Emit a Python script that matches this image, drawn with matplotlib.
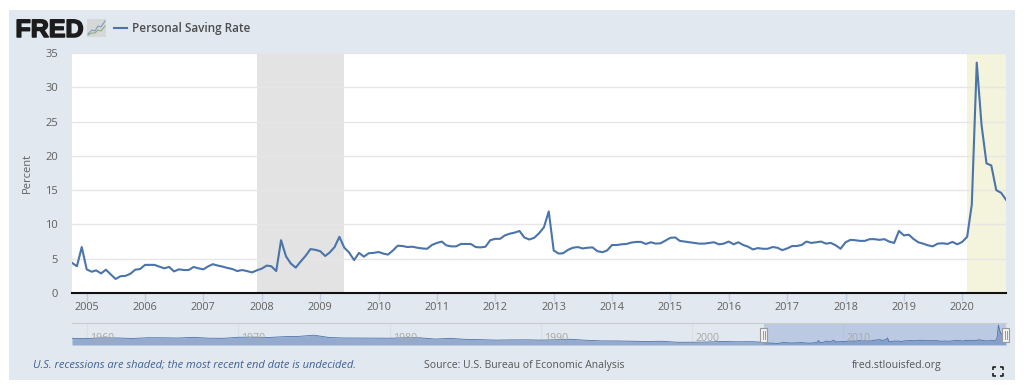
import numpy as np
import pandas as pd
import matplotlib
matplotlib.use('Agg')
import matplotlib.pyplot as plt
import matplotlib.patheffects as pe
from matplotlib.patches import Rectangle

plt.rcParams['font.family'] = ['Open Sans', 'DejaVu Sans']

# Personal saving rate, monthly, Oct 2004 - Oct 2020
saving_2004 = [4.4, 3.9, 6.7]
saving_2005 = [3.45, 3.1, 3.3, 2.85, 3.4, 2.7, 2.05, 2.45, 2.5, 2.8, 3.4, 3.5]
saving_2006 = [4.1, 4.1, 4.1, 3.85, 3.6, 3.8, 3.15, 3.45, 3.35, 3.35, 3.8, 3.6]
saving_2007 = [3.45, 3.9, 4.2, 4.0, 3.85, 3.65, 3.5, 3.2, 3.35, 3.2, 3.0, 3.3]
saving_2008 = [3.55, 4.0, 3.9, 3.2, 7.7, 5.35, 4.3, 3.7, 4.6, 5.4, 6.4, 6.3]
saving_2009 = [6.1, 5.4, 5.9, 6.7, 8.2, 6.6, 5.9, 4.8, 5.85, 5.3, 5.8, 5.85]
saving_2010 = [5.98, 5.74, 5.6, 6.2, 6.9, 6.85, 6.7, 6.75, 6.6, 6.5, 6.45, 7.0]
saving_2011 = [7.3, 7.5, 6.95, 6.8, 6.8, 7.15, 7.15, 7.15, 6.7, 6.65, 6.75, 7.7]
saving_2012 = [7.9, 7.9, 8.4, 8.65, 8.8, 9.05, 8.1, 7.8, 8.05, 8.7, 9.6, 11.9]
saving_2013 = [6.2, 5.75, 5.8, 6.3, 6.6, 6.7, 6.5, 6.6, 6.65, 6.1, 5.95, 6.2]
saving_2014 = [7.0, 7.0, 7.1, 7.15, 7.35, 7.45, 7.45, 7.15, 7.4, 7.2, 7.25, 7.65]
saving_2015 = [8.05, 8.1, 7.6, 7.5, 7.4, 7.3, 7.2, 7.2, 7.3, 7.4, 7.1, 7.2]
saving_2016 = [7.5, 7.1, 7.4, 7.0, 6.75, 6.35, 6.55, 6.45, 6.45, 6.7, 6.6, 6.25]
saving_2017 = [6.5, 6.85, 6.85, 7.0, 7.5, 7.3, 7.4, 7.5, 7.2, 7.3, 6.95, 6.45]
saving_2018 = [7.4, 7.75, 7.7, 7.6, 7.6, 7.85, 7.85, 7.75, 7.85, 7.5, 7.3, 9.05]
saving_2019 = [8.4, 8.5, 7.9, 7.4, 7.2, 6.95, 6.8, 7.2, 7.25, 7.15, 7.45, 7.1]
saving_2020 = [7.45, 8.2, 12.9, 33.6, 24.5, 18.9, 18.6, 15.0, 14.6, 13.6]

saving = (saving_2004 + saving_2005 + saving_2006 + saving_2007 + saving_2008
          + saving_2009 + saving_2010 + saving_2011 + saving_2012 + saving_2013
          + saving_2014 + saving_2015 + saving_2016 + saving_2017 + saving_2018
          + saving_2019 + saving_2020)
dates = pd.date_range('2004-10-01', '2020-10-01', freq='MS')

recessions = [('2007-12-01', '2009-06-01', '#e3e3e3'),
              ('2020-02-01', '2020-10-01', '#f4f3dc')]
y_ticks = [0, 5, 10, 15, 20, 25, 30, 35]
year_ticks = list(range(2005, 2021))

# Long history for the navigator strip, yearly 1959 - 2004
nav_years = list(range(1959, 2005))
nav_values = [11.2, 10.9, 12.0, 11.8, 11.0, 12.2, 12.1, 11.7, 12.9, 11.5,
              11.2, 13.0, 13.2, 12.6, 14.0, 14.5, 16.5, 12.6, 11.8, 11.7,
              11.5, 11.4, 12.2, 12.1, 10.0, 11.2, 9.5, 9.0, 8.2, 8.6,
              8.7, 8.2, 8.9, 9.6, 7.9, 6.9, 6.8, 6.4, 5.9, 6.3,
              4.6, 4.6, 5.0, 5.9, 5.4, 5.6]
nav_labels = [1960, 1970, 1980, 1990, 2000, 2010]

W, H = 1024, 392
LINE = '#4a74aa'
PANEL = '#e1e8f0'
TXT = '#606060'


def px_axes(fig, x0, y0, x1, y1, **kw):
    # axes placed by pixel box, y measured from the top
    return fig.add_axes([x0/W, 1-y1/H, (x1-x0)/W, (y1-y0)/H], **kw)


fig = plt.figure(figsize=(W/100, H/100), dpi=100, facecolor='white')

# overlay in pixel coordinates for panel, logo and footer
bg = px_axes(fig, 0, 0, W, H, zorder=0)
bg.set_xlim(0, W)
bg.set_ylim(H, 0)
bg.axis('off')
bg.add_patch(Rectangle((9, 10), 1006, 370, fc=PANEL, ec='none'))

bg.text(15.5, 37, 'FRED', family='Liberation Sans', weight='bold', fontsize=18,
        color='#1c1c1c', va='baseline', ha='left',
        path_effects=[pe.withStroke(linewidth=1.1, foreground='#1c1c1c')])
bg.add_patch(Rectangle((87, 19), 19, 18, fc='#d6d8d8', ec='none'))
bg.plot([88, 92, 95, 98, 101, 105], [34, 30, 31, 26, 27, 21], color='#7f9cc0', lw=0.8)
bg.plot([88, 92, 95, 98, 101, 105], [35, 33, 33, 30, 31, 26], color='#8fae7c', lw=0.8)
bg.plot([114, 127], [28, 28], color=LINE, lw=1.5)
bg.text(132, 28, 'Personal Saving Rate', fontsize=8.45, color='#4d4d4d', weight='semibold',
        va='center', ha='left')
bg.text(27, 173, 'Percent', fontsize=8, color=TXT, rotation=90, va='center', ha='center')

bg.text(33, 365.5, 'U.S. recessions are shaded; the most recent end date is undecided.',
        fontsize=8.02, style='italic', color='#3f6196', va='center', ha='left')
bg.text(424, 365.5, 'Source: U.S. Bureau of Economic Analysis', fontsize=7.5, color='#555555',
        va='center', ha='left')
bg.text(852, 365.5, 'fred.stlouisfed.org', fontsize=7.55, color='#555555', va='center', ha='left')

# fullscreen icon corners
for cx, cy, dx, dy in [(993, 367, 1, 1), (1003, 367, -1, 1), (993, 376, 1, -1), (1003, 376, -1, -1)]:
    bg.plot([cx+3*dx, cx, cx], [cy, cy, cy+3*dy], color='#111111', lw=1.1, solid_capstyle='butt')

# main chart
ax = px_axes(fig, 72, 53, 1006, 293, zorder=2)
for start, end, col in recessions:
    ax.axvspan(pd.Timestamp(start), pd.Timestamp(end), color=col, lw=0, zorder=1)
ax.plot(dates, saving, color=LINE, lw=1.5, zorder=4, solid_joinstyle='round')
ax.set_xlim(pd.Timestamp('2004-10-01'), pd.Timestamp('2020-10-01'))
ax.set_ylim(0, 35)
ax.set_yticks(y_ticks)
ax.set_xticks([pd.Timestamp(f'{y}-01-01') for y in year_ticks])
ax.set_xticklabels([str(y) for y in year_ticks])
ax.grid(axis='y', color='#e6e6e6', lw=1, zorder=2)
ax.set_axisbelow(False)
for line in ax.get_ygridlines():
    line.set_zorder(2)
ax.tick_params(axis='y', length=0, labelsize=8, labelcolor=TXT, pad=10)
ax.tick_params(axis='x', length=6, width=1, color='#c0d0e0', labelsize=7.8, labelcolor=TXT, pad=0.5)
for side in ['top', 'left', 'right']:
    ax.spines[side].set_visible(False)
ax.spines['bottom'].set_color('#111111')
ax.spines['bottom'].set_linewidth(1.5)
ax.spines['bottom'].set_zorder(5)

# navigator strip
nav = px_axes(fig, 72, 323, 1006, 345, zorder=1)
nav.patch.set_alpha(0)
nav_dates = list(pd.to_datetime([f'{y}-01-01' for y in nav_years])) + list(dates)
nav_all = nav_values + saving
nav.fill_between(nav_dates, nav_all, 0, color='#94abcf', lw=0)
nav.plot(nav_dates, nav_all, color=LINE, lw=0.6)
nav.set_xlim(pd.Timestamp('1959-01-01'), pd.Timestamp('2020-10-01'))
nav.set_ylim(0, 37)
nav.axvspan(pd.Timestamp('2004-10-01'), pd.Timestamp('2020-10-01'), color='#6685c2', alpha=0.3, lw=0)
nav.set_xticks([])
nav.set_yticks([])
for side in ['left', 'right', 'bottom']:
    nav.spines[side].set_visible(False)
nav.spines['top'].set_color('#cccccc')
for y in nav_labels:
    t = pd.Timestamp(f'{y}-01-01')
    nav.axvline(t, color='#d8dfe8', lw=0.8, zorder=0)
    nav.annotate(str(y), (t, 0), xytext=(3, 6.5), textcoords='offset pixels', fontsize=7.6,
                 color='#a8a8a8', va='center', ha='left', annotation_clip=False)

# navigator handles on top
top = px_axes(fig, 0, 0, W, H, zorder=3)
top.set_xlim(0, W)
top.set_ylim(H, 0)
top.axis('off')
for hx in [763.5, 1005.5]:
    top.add_patch(Rectangle((hx-3.5, 328), 7, 14, fc='#f2f2f2', ec='#999999', lw=0.8))
    top.plot([hx-1, hx-1], [331, 339], color='#999999', lw=0.7)
    top.plot([hx+1, hx+1], [331, 339], color='#999999', lw=0.7)

fig.savefig('out.png', dpi=100)
